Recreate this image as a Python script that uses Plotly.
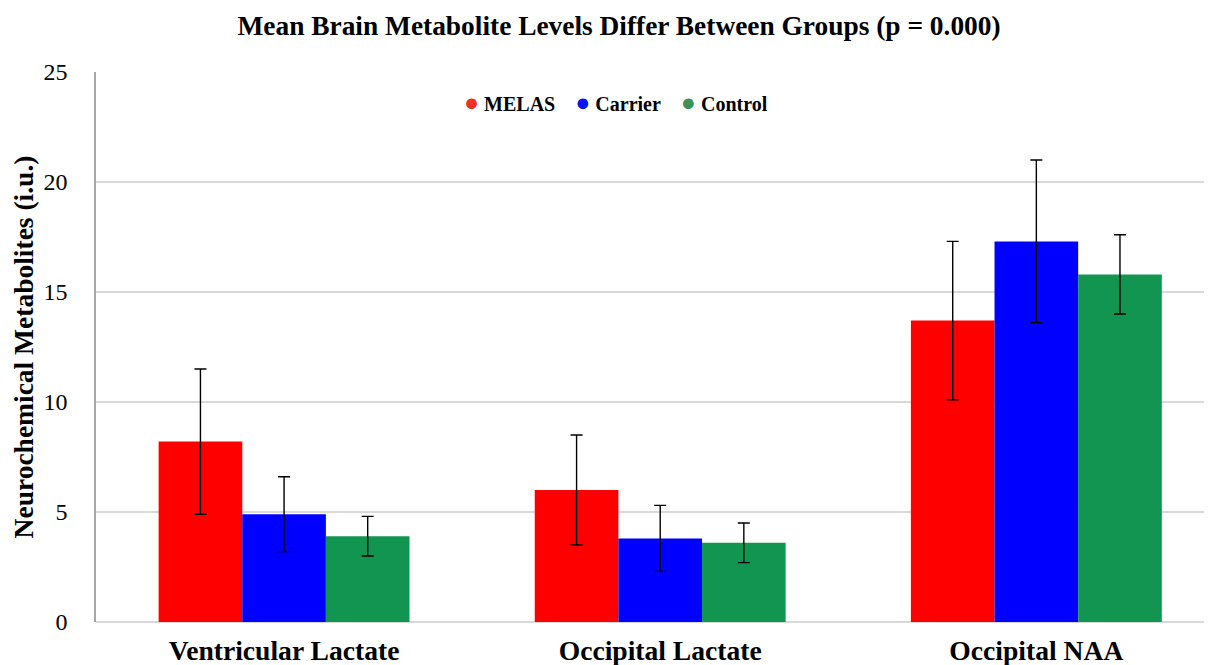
import plotly.graph_objects as go

categories = ["Ventricular Lactate", "Occipital Lactate", "Occipital NAA"]
groups = ["MELAS", "Carrier", "Control"]
melas = [8.2, 6.0, 13.7]
melas_err = [3.3, 2.5, 3.6]
carrier = [4.9, 3.8, 17.3]
carrier_err = [1.7, 1.5, 3.7]
control = [3.9, 3.6, 15.8]
control_err = [0.9, 0.9, 1.8]

values = [melas, carrier, control]
errors = [melas_err, carrier_err, control_err]
bar_colors = ["#FF0000", "#0000FF", "#119550"]
legend_colors = ["#EE3124", "#0A14F5", "#3E9257"]

serif = "Liberation Serif, Times New Roman, serif"

fig = go.Figure()
for name, vals, errs, col in zip(groups, values, errors, bar_colors):
    fig.add_trace(go.Bar(
        x=categories, y=vals, name=name, showlegend=False,
        marker=dict(color=col, line=dict(width=0)),
        error_y=dict(type="data", array=errs, visible=True, color="black",
                     thickness=1.4, width=6),
    ))

# legend drawn as a single line of text with coloured bullets
sp = "&nbsp;" * 4
legend_text = sp.join(
    f"<span style='color:{c};font-size:25px'>●</span>&nbsp;<b>{g}</b>"
    for g, c in zip(groups, legend_colors)
)
fig.add_annotation(
    text=legend_text, xref="paper", yref="paper", x=0.466, y=0.944,
    xanchor="center", yanchor="middle", showarrow=False,
    font=dict(family=serif, size=20, color="black"),
)

fig.update_layout(
    width=1204, height=657,
    paper_bgcolor="white", plot_bgcolor="white",
    margin=dict(l=88, r=0, t=64, b=43, autoexpand=False),
    barmode="group", bargap=0.333, bargroupgap=0,
    showlegend=False,
    title=dict(text="<b>Mean Brain Metabolite Levels Differ Between Groups (p = 0.000)</b>",
               x=0.5075, xanchor="center", y=0.974, yanchor="middle",
               font=dict(family=serif, size=27.4, color="black")),
    font=dict(family=serif, color="black"),
)
fig.update_xaxes(
    range=[-0.5, 2.467], showgrid=False, showline=False, zeroline=False,
    automargin=False,
    ticks="", tickfont=dict(family=serif, size=27.6, color="black", weight="bold"),
    ticklabelstandoff=9,
)
fig.update_yaxes(
    range=[0, 25], tickvals=[0, 5, 10, 15, 20, 25],
    automargin=False,
    showgrid=True, gridcolor="#D9D9D9", gridwidth=2,
    zeroline=True, zerolinecolor="#D9D9D9", zerolinewidth=2,
    showline=True, linecolor="#A6A6A6", linewidth=1.5,
    ticks="", tickfont=dict(family=serif, size=24, color="black"),
    ticklabelstandoff=22,
    title=dict(text="<b>Neurochemical Metabolites (i.u.)</b>",
               font=dict(family=serif, size=27.5, color="black"), standoff=8),
)

fig.write_html("out.html")
